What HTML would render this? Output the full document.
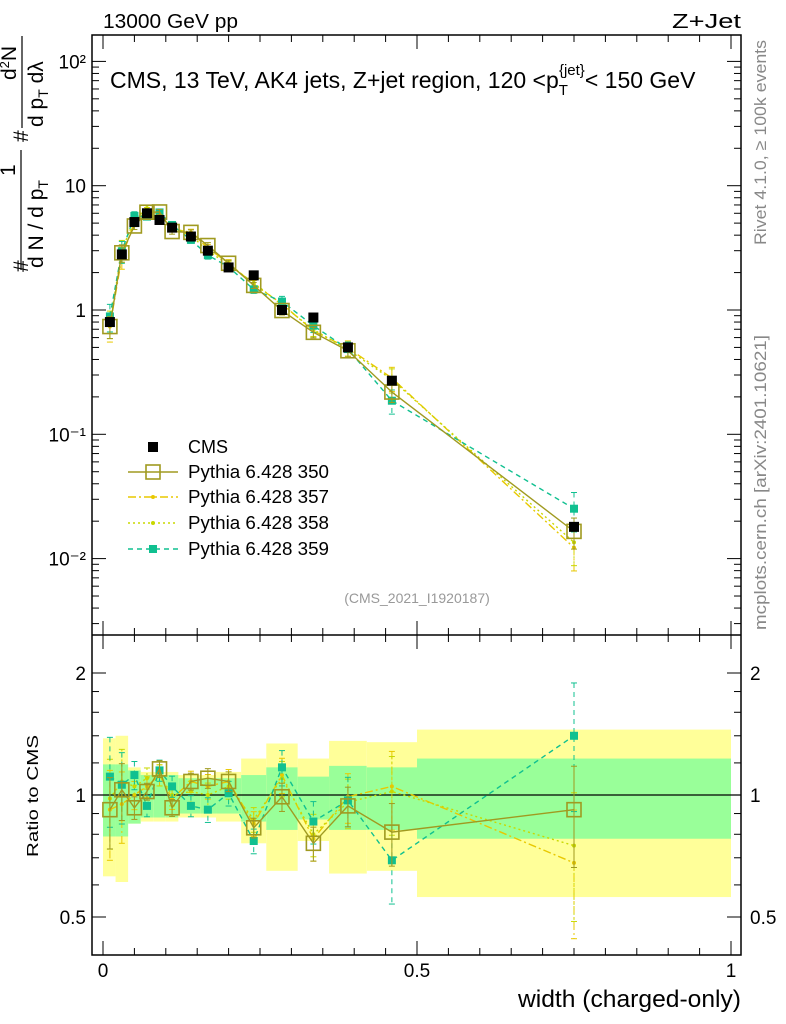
<!DOCTYPE html>
<html><head><meta charset="utf-8"><style>
html,body{margin:0;padding:0;background:#fff;}
svg{display:block;font-family:"Liberation Sans",sans-serif;}
</style></head><body>
<svg id="c" width="786" height="1024" xmlns="http://www.w3.org/2000/svg">
<g id="bands"></g>
<rect x="92" y="35" width="649" height="920" fill="none" stroke="#000" stroke-width="1.5"/>
<line x1="92" y1="635" x2="741" y2="635" stroke="#000" stroke-width="1.5"/>
<g id="ticks"></g>
<g id="series"></g>
<text x="103" y="28" font-size="20" textLength="135" lengthAdjust="spacingAndGlyphs">13000 GeV pp</text>
<text x="672" y="28" font-size="20" textLength="69" lengthAdjust="spacingAndGlyphs">Z+Jet</text>
<text x="110" y="88" font-size="23">CMS, 13 TeV, AK4 jets, Z+jet region, 120 &lt;p<tspan font-size="15" dy="7">T</tspan><tspan font-size="15" dy="-20" dx="-9">{jet}</tspan><tspan dy="13">&lt; 150 GeV</tspan></text>
<text x="417" y="603" font-size="14" fill="#999" text-anchor="middle">(CMS_2021_I1920187)</text>
<text transform="translate(766,245) rotate(-90)" font-size="17" fill="#888" textLength="205" lengthAdjust="spacingAndGlyphs">Rivet 4.1.0, ≥ 100k events</text>
<text transform="translate(766,630) rotate(-90)" font-size="17" fill="#888" textLength="295" lengthAdjust="spacingAndGlyphs">mcplots.cern.ch [arXiv:2401.10621]</text>
<g font-size="21">
<text transform="translate(28,272) rotate(-90)">#</text>
<text transform="translate(15,176) rotate(-90)">1</text>
<line x1="21" y1="150" x2="21" y2="270" stroke="#000" stroke-width="1.2"/>
<text transform="translate(43,268) rotate(-90)">d N / d p<tspan font-size="14" dy="5">T</tspan></text>
<text transform="translate(28,142) rotate(-90)">#</text>
<text transform="translate(16,80) rotate(-90)">d<tspan font-size="13" dy="-7">2</tspan><tspan dy="7">N</tspan></text>
<line x1="22" y1="36" x2="22" y2="128" stroke="#000" stroke-width="1.2"/>
<text transform="translate(43,127) rotate(-90)">d p<tspan font-size="14" dy="5">T</tspan><tspan dy="-5"> dλ</tspan></text>
</g>
<text transform="translate(38,857) rotate(-90)" font-size="16" textLength="122" lengthAdjust="spacingAndGlyphs">Ratio to CMS</text>
<text x="518" y="1007" font-size="24" textLength="223" lengthAdjust="spacingAndGlyphs">width (charged-only)</text>
<g id="legend"></g>
</svg>
<script>
const centers=[0.011,0.03,0.05,0.07,0.09,0.11,0.14,0.167,0.2,0.24,0.285,0.335,0.39,0.46,0.75];
const cmsVals=[0.8,2.8,5.1,6.0,5.3,4.6,3.9,3.0,2.2,1.9,1.0,0.87,0.5,0.27,0.018];
const r350=[0.92,1.03,0.93,1.02,1.16,0.93,1.08,1.10,1.08,0.83,0.99,0.76,0.94,0.81,0.92];
const r357=[0.92,0.95,1.0,1.05,1.12,0.98,1.08,1.05,1.08,0.85,1.12,0.78,0.99,1.05,0.68];
const r358=[0.98,1.08,1.05,1.1,1.12,1.0,1.02,1.0,1.05,0.87,1.1,0.8,0.96,1.02,0.75];
const r359=[1.11,1.06,1.12,0.94,1.15,1.05,0.94,0.92,1.01,0.77,1.17,0.86,0.97,0.69,1.4];
const relErr=[0.25,0.2,0.08,0.06,0.06,0.06,0.06,0.07,0.07,0.07,0.1,0.12,0.14,0.22,0.35];
const binEdges=[0,0.02,0.04,0.06,0.08,0.1,0.12,0.155,0.18,0.22,0.26,0.31,0.36,0.42,0.5,1.0];
const greenHi=[1.19,1.19,1.15,1.12,1.12,1.12,1.1,1.1,1.1,1.12,1.17,1.11,1.18,1.17,1.23];
const greenLo=[0.79,0.79,0.85,0.88,0.88,0.88,0.9,0.9,0.9,0.86,0.82,0.87,0.82,0.82,0.78];
const yellowHi=[1.38,1.4,1.17,1.14,1.14,1.14,1.12,1.12,1.14,1.23,1.34,1.23,1.36,1.35,1.45];
const yellowLo=[0.63,0.61,0.85,0.86,0.86,0.86,0.88,0.88,0.86,0.76,0.65,0.77,0.64,0.65,0.56];
const mainTickLabels=["10²","10","1","10⁻¹","10⁻²"];
const xTickLabels=["0","0.5","1"];
const ratioTickVals=[2,1,0.5];

const NS="http://www.w3.org/2000/svg";
const X=v=>103+v*628;
const Y=v=>310-Math.log10(v)*124.3;
const R=v=>795-Math.log2(v)*122;
function mk(tag,at,parent){const e=document.createElementNS(NS,tag);for(const k in at)e.setAttribute(k,at[k]);parent.appendChild(e);return e;}
const bands=document.getElementById('bands'),ticks=document.getElementById('ticks'),ser=document.getElementById('series'),leg=document.getElementById('legend');

for(let i=0;i<binEdges.length-1;i++){
 const x0=X(binEdges[i]),x1=X(binEdges[i+1]);
 const y=mk('rect',{x:x0,y:R(yellowHi[i]),width:x1-x0,height:R(yellowLo[i])-R(yellowHi[i]),fill:'#ffff99'},bands);
 
 
 const g=mk('rect',{x:x0,y:R(greenHi[i]),width:x1-x0,height:R(greenLo[i])-R(greenHi[i]),fill:'#99ff99'},bands);
 
 
}
mk('line',{x1:92,y1:R(1),x2:741,y2:R(1),stroke:'#000','stroke-width':1.2},bands);

for(let d=-3;d<=2;d++){for(let m=1;m<10;m++){const v=m*Math.pow(10,d);const y=Y(v);if(y<36||y>634)continue;const L=m==1?14:7;
 mk('line',{x1:92,y1:y,x2:92+L,y2:y,stroke:'#000'},ticks);mk('line',{x1:741,y1:y,x2:741-L,y2:y,stroke:'#000'},ticks);}}
mainTickLabels.forEach((t,i)=>{const t2=mk('text',{x:86,y:Y(Math.pow(10,2-i))+7,'font-size':19,'text-anchor':'end'},ticks);t2.textContent=t;
 
 });
[0.4,0.5,0.6,0.7,0.8,0.9,1,1.2,1.4,1.6,1.8,2].forEach(v=>{const y=R(v);if(y<637||y>953)return;const L=(v==1||v==2||v==0.5)?14:7;
 mk('line',{x1:92,y1:y,x2:92+L,y2:y,stroke:'#000'},ticks);mk('line',{x1:741,y1:y,x2:741-L,y2:y,stroke:'#000'},ticks);});
ratioTickVals.forEach(v=>{const a=mk('text',{x:86,y:R(v)+7,'font-size':19,'text-anchor':'end'},ticks);a.textContent=v;
 
 
 const b=mk('text',{x:750,y:R(v)+7,'font-size':19},ticks);b.textContent=v;
 
 });
for(let k=0;k<=20;k++){const v=k*0.05,x=X(v),L=k%10==0?14:7;
 [[35,1],[635,-1],[635,1],[955,-1]].forEach(([y0,s])=>mk('line',{x1:x,y1:y0,x2:x,y2:y0+s*L,stroke:'#000'},ticks));}
xTickLabels.forEach((t,i)=>{const a=mk('text',{x:X(i*0.5),y:977,'font-size':19,'text-anchor':'middle'},ticks);a.textContent=t;
 
 });

const defs=[
 {r:r357,c:'#e8c800',dash:'8,3,2,3',name:'pythia-357',mk:'dot',lbl:'Pythia 6.428 357'},
 {r:r358,c:'#c8d800',dash:'2,3',name:'pythia-358',mk:'dot',lbl:'Pythia 6.428 358'},
 {r:r359,c:'#10c090',dash:'5,4',name:'pythia-359',mk:'sq',lbl:'Pythia 6.428 359'},
 {r:r350,c:'#a09a20',dash:'',name:'pythia-350',mk:'open',lbl:'Pythia 6.428 350'}];
function marker(kind,x,y,c,parent){
 if(kind=='open')return mk('rect',{x:x-7,y:y-7,width:14,height:14,fill:'none',stroke:c,'stroke-width':1.6},parent);
 if(kind=='sq')return mk('rect',{x:x-4,y:y-4,width:8,height:8,fill:c},parent);
 return mk('circle',{cx:x,cy:y,r:2,fill:c},parent);}
function drawSeries(vals,fy,d,isRatio){
 const pts=centers.map((c,i)=>[X(c),fy(vals[i])]);
 const pl=mk('polyline',{points:pts.map(p=>p.join(',')).join(' '),fill:'none',stroke:d.c,'stroke-width':1.4,'stroke-dasharray':d.dash},ser);
 
 
 centers.forEach((c,i)=>{const v=vals[i],e=relErr[i]*(d.name=='pythia-350'?0.8:1);
  const y1=fy(v*(1+e)),y2=fy(Math.max(v*(1-e),1e-4));
  mk('line',{x1:X(c),y1:y1,x2:X(c),y2:y2,stroke:d.c,'stroke-dasharray':d.dash},ser);
  mk('line',{x1:X(c)-3,y1:y1,x2:X(c)+3,y2:y1,stroke:d.c},ser);mk('line',{x1:X(c)-3,y1:y2,x2:X(c)+3,y2:y2,stroke:d.c},ser);
  const m=marker(d.mk,X(c),fy(v),d.c,ser);
  
  });}
defs.forEach(d=>{drawSeries(d.r.map((r,i)=>r*cmsVals[i]),Y,d,false);drawSeries(d.r,R,d,true);});
cmsVals.forEach((v,i)=>{const m=mk('rect',{x:X(centers[i])-5,y:Y(v)-5,width:10,height:10,fill:'#000'},ser);
 
 });

const ly=[447,472,497,523,549];
mk('rect',{x:148,y:ly[0]-5,width:10,height:10,fill:'#000'},leg);
let t=mk('text',{x:188,y:ly[0]+6,'font-size':18},leg);t.textContent='CMS';


[defs[3],defs[0],defs[1],defs[2]].forEach((d,i)=>{const y=ly[i+1];
 mk('line',{x1:128,y1:y,x2:178,y2:y,stroke:d.c,'stroke-width':1.4,'stroke-dasharray':d.dash},leg);
 marker(d.mk,153,y,d.c,leg);
 const tx=mk('text',{x:188,y:y+6,'font-size':18,textLength:141,lengthAdjust:'spacingAndGlyphs'},leg);tx.textContent=d.lbl;
 
 });
</script>
</body></html>
